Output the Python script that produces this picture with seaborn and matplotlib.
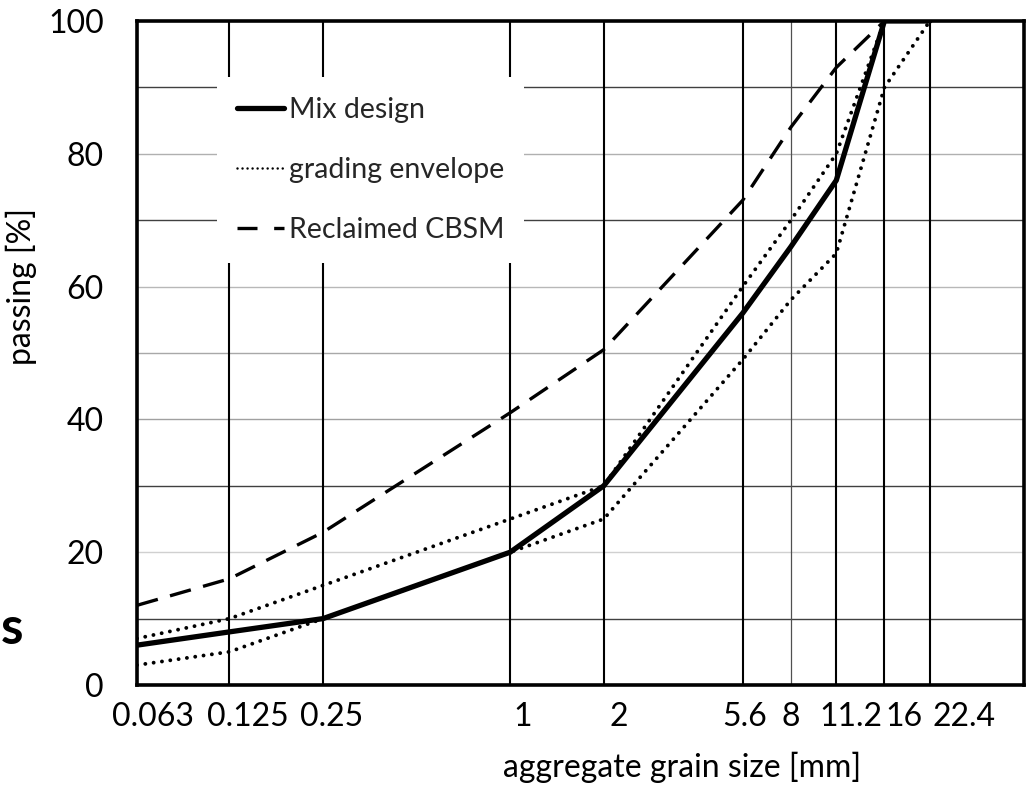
import matplotlib
matplotlib.use("Agg")
import matplotlib.pyplot as plt
import matplotlib.transforms as mtransforms
import seaborn as sns

# Sieve sizes [mm] and tick labels
sieve = [0.063, 0.125, 0.25, 1, 2, 5.6, 8, 11.2, 16, 22.4]
tick_labels = ["0.063", "0.125", "0.25", "1", "2", "5.6", "8", "11.2", "16", "22.4"]

# Passing [%] per sieve
mix_design = [6, 8, 10, 20, 30, 56, 66, 76, 100, 100]
envelope_upper = [7, 10, 15, 25, 30, 60, 70, 80, 100, 100]
envelope_lower = [3, 5, 10, 20, 25, 49, 58, 65, 90, 100]
cbsm_sieve = [0.063, 0.125, 0.25, 1, 2, 5.6, 8, 11.2, 16]
reclaimed_cbsm = [12, 16, 23, 41, 50.5, 73, 84, 93, 100]

y_ticks = [0, 20, 40, 60, 80, 100]
y_grid = [10, 20, 30, 40, 50, 60, 70, 80, 90]

sns.set_theme(style="white")
plt.rcParams["font.family"] = ["Lato", "DejaVu Sans"]

fig = plt.figure(figsize=(10.29, 7.88), dpi=100)
ax = fig.add_axes([137 / 1029, 1 - 685 / 788, 887 / 1029, 664 / 788])

ax.set_xscale("log")
ax.set_xlim(0.063, 45)
ax.set_ylim(0, 100)

# horizontal grid: alternating shades
grid_colors = {10: "#404040", 20: "#d0d0d0", 30: "#404040", 40: "#a0a0a0",
               50: "#a8a8a8", 60: "#b8b8b8", 70: "#404040", 80: "#b0b0b0",
               90: "#404040"}
for yv in y_grid:
    ax.axhline(yv, color=grid_colors[yv], lw=1.0, zorder=1)

# vertical lines at every sieve size
for s in sieve:
    if s == 8:
        ax.axvline(s, color="#505050", lw=0.9, zorder=1)
    else:
        ax.axvline(s, color="black", lw=1.5, zorder=1)

dot = (0.01, 2.15)
sns.lineplot(x=sieve, y=mix_design, ax=ax, color="black", lw=3.8,
             label="Mix design", zorder=4, solid_joinstyle="miter")
sns.lineplot(x=sieve, y=envelope_upper, ax=ax, color="black", lw=2.8,
             label="grading envelope", zorder=3)
sns.lineplot(x=sieve, y=envelope_lower, ax=ax, color="black", lw=2.8,
             label="_nolegend_", zorder=3)
sns.lineplot(x=cbsm_sieve, y=reclaimed_cbsm, ax=ax, color="black", lw=2.4,
             label="Reclaimed CBSM", zorder=3)

data_lines = ax.get_lines()[-4:]
for ln in data_lines[1:3]:
    ln.set_dashes(dot)
    ln.set_dash_capstyle("round")
data_lines[3].set_dashes((6.5, 3.8))

# axes frame
for sp in ax.spines.values():
    sp.set_color("black")
    sp.set_linewidth(2.6)
    sp.set_zorder(5)

ax.set_yticks(y_ticks)
ax.set_yticklabels([str(v) for v in y_ticks])
ax.tick_params(axis="y", length=0, pad=24, labelsize=23, colors="black")

ax.xaxis.set_minor_locator(matplotlib.ticker.NullLocator())
ax.set_xticks(sieve)
ax.set_xticklabels(tick_labels)
ax.tick_params(axis="x", length=0, pad=12, labelsize=23, colors="black")

# horizontal nudges of the category labels (pixels)
label_shift = [16, 18, 9, 12, 15, 2, 0, 15, 20, 34]
for lab, dx in zip(ax.get_xticklabels(), label_shift):
    lab.set_transform(lab.get_transform() +
                      mtransforms.ScaledTranslation(dx / 100, 0, fig.dpi_scale_trans))

ax.set_ylabel("passing [%]", fontsize=23, color="black")
ax.yaxis.set_label_coords(-0.113, 0.60)
ax.set_xlabel("aggregate grain size [mm]", fontsize=23, color="black")
ax.xaxis.set_label_coords(0.614, -0.10)

leg = ax.legend(loc="upper left", bbox_to_anchor=(80 / 887, (685 - 77) / 664),
                borderaxespad=0, fontsize=20.5, frameon=True, fancybox=False,
                facecolor="white", edgecolor="none", framealpha=1,
                handlelength=1.65, handletextpad=0.18, labelspacing=1.2,
                borderpad=0.7)
leg.set_zorder(6)
leg_lines = leg.get_lines()
leg_lines[0].set_linewidth(3.8)
leg_lines[1].set_linewidth(1.8)
leg_lines[1].set_dashes((0.01, 2.0))
leg_lines[1].set_dash_capstyle("round")
leg_lines[2].set_dashes((6.0, 5.0))

fig.text(1 / 1029, 1 - 630 / 788, "s", fontsize=37, fontweight="bold",
         va="center", ha="left", color="black")

fig.savefig("out.png", dpi=100)
